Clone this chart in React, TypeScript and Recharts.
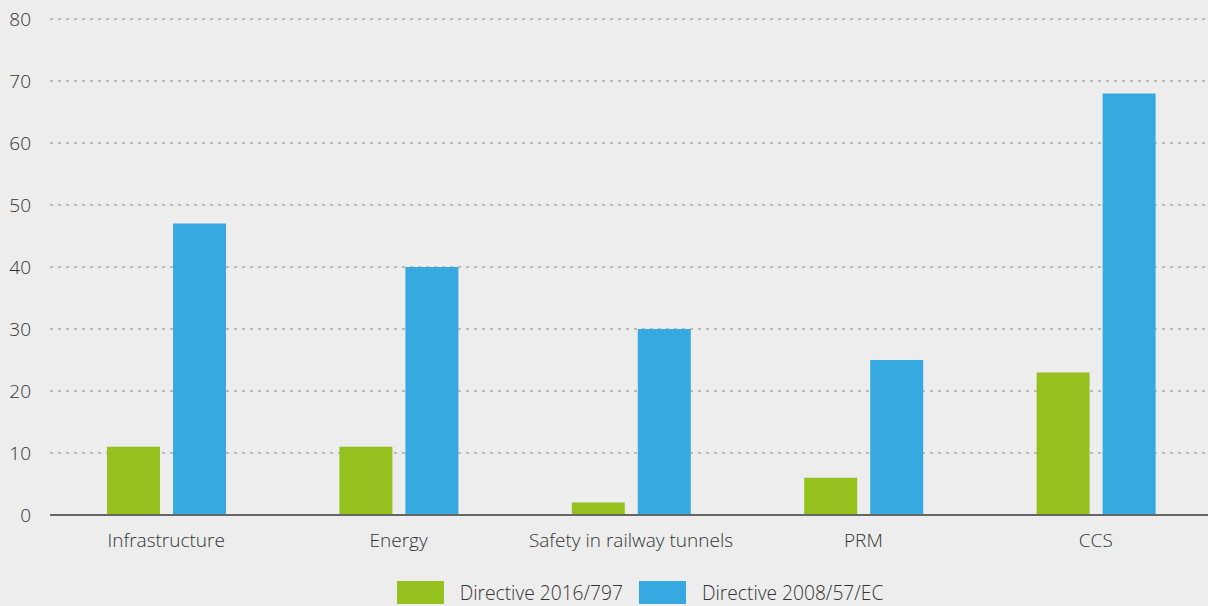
import { Bar, BarChart, CartesianGrid, Legend, XAxis, YAxis } from 'recharts';

const categories = ['Infrastructure', 'Energy', 'Safety in railway tunnels', 'PRM', 'CCS'];
const directive2016 = [11, 11, 2, 6, 23];
const directive2008 = [47, 40, 30, 25, 68];
const yTicks = [0, 10, 20, 30, 40, 50, 60, 70, 80];

const GREEN = '#95c11f';
const BLUE = '#36a9e1';
const FONT = '"Open Sans", "Noto Sans", sans-serif';

const chartData = categories.map((name, i) => ({
  name,
  d2016: directive2016[i],
  d2008: directive2008[i],
}));

const legendItems = [
  { label: 'Directive 2016/797', color: GREEN },
  { label: 'Directive 2008/57/EC', color: BLUE },
];

function ChartLegend() {
  return (
    <div
      style={{
        display: 'flex',
        justifyContent: 'center',
        alignItems: 'center',
        height: 31,
        paddingTop: 4,
        paddingLeft: 68,
        boxSizing: 'border-box',
        fontFamily: FONT,
        fontSize: 19.2,
        color: '#333333',
        fontWeight: 300,
      }}
    >
      {legendItems.map((item, i) => (
        <div
          key={item.label}
          style={{ display: 'flex', alignItems: 'center', marginLeft: i === 0 ? 0 : 16 }}
        >
          <span
            style={{
              width: 47,
              height: 23,
              background: item.color,
              display: 'inline-block',
              marginRight: 16,
            }}
          />
          <span>{item.label}</span>
        </div>
      ))}
    </div>
  );
}

function App() {
  return (
    <div style={{ position: 'fixed', left: 0, top: 0, width: 1208, height: 606, background: '#ededed', overflow: 'hidden' }}>
      <BarChart
        width={1208}
        height={606}
        data={chartData}
        margin={{ top: 19, right: -4, bottom: 0, left: 0 }}
        barSize={53}
        barGap={13}
      >
        <CartesianGrid vertical={false} stroke="#ababab" strokeDasharray="3 5" strokeWidth={1.5} />
        <XAxis
          dataKey="name"
          height={60}
          tickLine={false}
          tickSize={0}
          tickMargin={19}
          axisLine={{ stroke: '#666666', strokeWidth: 2 }}
          tick={{ fill: '#333333', fontSize: 19, fontFamily: FONT, fontWeight: 300 }}
          interval={0}
        />
        <YAxis
          width={50}
          domain={[0, 80]}
          ticks={yTicks}
          axisLine={false}
          tickLine={false}
          tickSize={0}
          tickMargin={19}
          tick={{ fill: '#333333', fontSize: 19, fontFamily: FONT, fontWeight: 300 }}
        />
        <Legend verticalAlign="bottom" height={31} content={<ChartLegend />} />
        <Bar dataKey="d2016" name="Directive 2016/797" fill={GREEN} isAnimationActive={false} />
        <Bar dataKey="d2008" name="Directive 2008/57/EC" fill={BLUE} isAnimationActive={false} />
      </BarChart>
    </div>
  );
}

export default App;
